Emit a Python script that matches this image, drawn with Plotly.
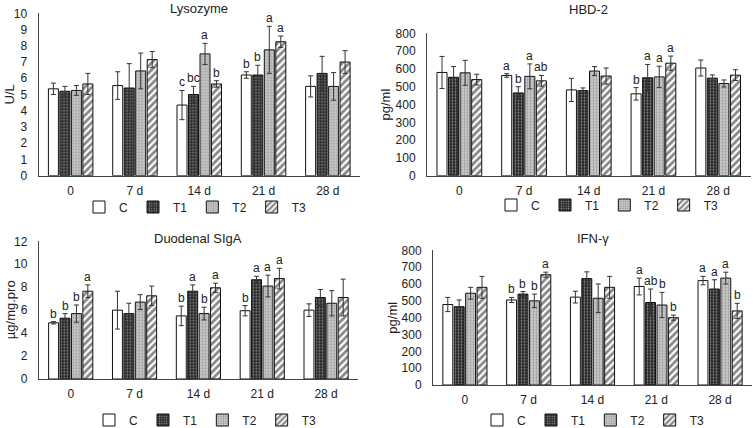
import plotly.graph_objects as go

W_FIG, H_FIG = 753, 428

days = ["0", "7 d", "14 d", "21 d", "28 d"]
groups = ["C", "T1", "T2", "T3"]

# Lysozyme (U/L)
lys_C = [5.35, 5.55, 4.35, 6.2, 5.5]
lys_T1 = [5.2, 5.4, 5.0, 6.2, 6.3]
lys_T2 = [5.25, 6.45, 7.5, 7.75, 5.5]
lys_T3 = [5.65, 7.15, 5.65, 8.25, 7.0]
lys_C_err = [0.35, 0.85, 0.9, 0.2, 0.65]
lys_T1_err = [0.3, 1.5, 0.5, 0.6, 1.05]
lys_T2_err = [0.3, 1.1, 0.65, 1.45, 0.85]
lys_T3_err = [0.65, 0.5, 0.2, 0.35, 0.7]
lys_C_lab = ["", "", "c", "b", ""]
lys_T1_lab = ["", "", "bc", "b", ""]
lys_T2_lab = ["", "", "a", "a", ""]
lys_T3_lab = ["", "", "b", "a", ""]

# HBD-2 (pg/ml)
hbd_C = [580, 563, 482, 460, 605]
hbd_T1 = [553, 465, 478, 550, 548]
hbd_T2 = [578, 558, 588, 555, 518]
hbd_T3 = [540, 533, 560, 632, 565]
hbd_C_err = [90, 10, 65, 35, 45]
hbd_T1_err = [60, 35, 15, 75, 18]
hbd_T2_err = [70, 70, 25, 60, 20]
hbd_T3_err = [30, 30, 45, 40, 30]
hbd_C_lab = ["", "a", "", "b", ""]
hbd_T1_lab = ["", "b", "", "a", ""]
hbd_T2_lab = ["", "a", "", "a", ""]
hbd_T3_lab = ["", "ab", "", "a", ""]

# Duodenal SIgA (µg/mg.pro)
sig_C = [4.9, 6.0, 5.5, 5.95, 6.0]
sig_T1 = [5.3, 5.7, 7.65, 8.65, 7.1]
sig_T2 = [5.7, 6.7, 5.7, 8.1, 6.6]
sig_T3 = [7.65, 7.25, 7.95, 8.75, 7.1]
sig_C_err = [0.1, 1.65, 0.85, 0.45, 0.55]
sig_T1_err = [0.4, 0.9, 0.55, 0.3, 0.7]
sig_T2_err = [0.75, 0.65, 0.55, 0.95, 1.1]
sig_T3_err = [0.55, 0.85, 0.4, 0.9, 1.6]
sig_C_lab = ["b", "", "b", "b", ""]
sig_T1_lab = ["b", "", "a", "a", ""]
sig_T2_lab = ["b", "", "b", "a", ""]
sig_T3_lab = ["a", "", "a", "a", ""]

# IFN-gamma (pg/ml)
ifn_C = [478, 505, 522, 585, 620]
ifn_T1 = [465, 540, 632, 490, 570]
ifn_T2 = [545, 500, 515, 475, 635]
ifn_T3 = [580, 655, 580, 400, 440]
ifn_C_err = [42, 15, 35, 50, 25]
ifn_T1_err = [40, 15, 40, 80, 55]
ifn_T2_err = [35, 40, 85, 75, 35]
ifn_T3_err = [65, 15, 65, 15, 45]
ifn_C_lab = ["", "b", "", "a", "a"]
ifn_T1_lab = ["", "b", "", "ab", "a"]
ifn_T2_lab = ["", "b", "", "b", "a"]
ifn_T3_lab = ["", "a", "", "b", "b"]

patterns = {
    "C": dict(shape="", bgcolor="white"),
    "T1": dict(shape=".", bgcolor="#222222", fgcolor="white", size=3, solidity=0.3),
    "T2": dict(shape=".", bgcolor="#d2d2d2", fgcolor="#666666", size=3, solidity=0.45),
    "T3": dict(shape="/", bgcolor="white", fgcolor="#111", size=5, solidity=0.55),
}

BARGAP = 0.285
FONT = "Liberation Sans, Arial, sans-serif"
TXT = "#222"

# panel pixel boxes: (x0, x1, ytop, ybottom)
panels = [
    dict(title="Lysozyme", ytitle="U/L", rng=[0, 10], dtick=1, box=(38.5, 360, 13.3, 175.7),
         vals=[lys_C, lys_T1, lys_T2, lys_T3], errs=[lys_C_err, lys_T1_err, lys_T2_err, lys_T3_err],
         labs=[lys_C_lab, lys_T1_lab, lys_T2_lab, lys_T3_lab], title_y=8, ytitle_x=9, leg=(195, 207)),
    dict(title="HBD-2", ytitle="pg/ml", rng=[0, 800], dtick=100, box=(427, 750.5, 33.3, 175.7),
         vals=[hbd_C, hbd_T1, hbd_T2, hbd_T3], errs=[hbd_C_err, hbd_T1_err, hbd_T2_err, hbd_T3_err],
         labs=[hbd_C_lab, hbd_T1_lab, hbd_T2_lab, hbd_T3_lab], title_y=10, ytitle_x=385, leg=(607, 205)),
    dict(title="Duodenal SIgA", ytitle="µg/mg.pro", rng=[0, 12], dtick=2, box=(38.8, 358, 241.3, 379),
         vals=[sig_C, sig_T1, sig_T2, sig_T3], errs=[sig_C_err, sig_T1_err, sig_T2_err, sig_T3_err],
         labs=[sig_C_lab, sig_T1_lab, sig_T2_lab, sig_T3_lab], title_y=238, ytitle_x=10, leg=(205, 420)),
    dict(title="IFN-γ", ytitle="pg/ml", rng=[0, 800], dtick=100, box=(433, 752, 250.3, 385),
         vals=[ifn_C, ifn_T1, ifn_T2, ifn_T3], errs=[ifn_C_err, ifn_T1_err, ifn_T2_err, ifn_T3_err],
         labs=[ifn_C_lab, ifn_T1_lab, ifn_T2_lab, ifn_T3_lab], title_y=238, ytitle_x=393, leg=(593, 420)),
]

fig = go.Figure()
annotations = []
layout_axes = {}

for p_i, p in enumerate(panels):
    k = "" if p_i == 0 else str(p_i + 1)
    xa, ya = "x" + k, "y" + k
    leg = "legend" + k
    x0, x1, yt, yb = p["box"]
    for g_i, g in enumerate(groups):
        fig.add_trace(go.Bar(
            x=days, y=p["vals"][g_i], name=g, xaxis=xa, yaxis=ya, legend=leg,
            marker=dict(color="white", line=dict(color="#111", width=1), pattern=patterns[g]),
            error_y=dict(type="data", array=p["errs"][g_i], color="#333", thickness=1, width=2.5),
        ))
    # significance letters
    cat_w = (x1 - x0) / len(days)
    slot = cat_w * (1 - BARGAP) / len(groups)
    for g_i in range(len(groups)):
        for d_i, d in enumerate(days):
            lab = p["labs"][g_i][d_i]
            if lab:
                annotations.append(dict(
                    x=d, y=p["vals"][g_i][d_i] + p["errs"][g_i][d_i], xref=xa, yref=ya,
                    text=lab, showarrow=False, yanchor="bottom", xanchor="center",
                    xshift=(g_i - 1.5) * slot, yshift=-1,
                    font=dict(size=12, color=TXT, family=FONT)))
    # panel title
    annotations.append(dict(x=(x0 + x1) / 2 / W_FIG, y=1 - p["title_y"] / H_FIG, xref="paper", yref="paper",
                            text=p["title"], showarrow=False, xanchor="center", yanchor="middle",
                            font=dict(size=13, color=TXT, family=FONT)))
    # y axis title
    annotations.append(dict(x=p["ytitle_x"] / W_FIG, y=1 - (yt + yb) / 2 / H_FIG, xref="paper", yref="paper",
                            text=p["ytitle"], showarrow=False, xanchor="center", yanchor="middle", textangle=-90,
                            font=dict(size=13, color=TXT, family=FONT)))
    xkey = "xaxis" + k
    ykey = "yaxis" + k
    layout_axes[xkey] = dict(domain=[x0 / W_FIG, x1 / W_FIG], anchor=ya, showline=True, linecolor="#444",
                             linewidth=1, ticks="", showgrid=False, ticklabelstandoff=4, automargin=False,
                             tickfont=dict(size=12, color=TXT, family=FONT))
    layout_axes[ykey] = dict(domain=[1 - yb / H_FIG, 1 - yt / H_FIG], anchor=xa, range=p["rng"], dtick=p["dtick"],
                             showline=True, linecolor="#444", linewidth=1, ticks="", showgrid=False,
                             zeroline=False, ticklabelstandoff=8, automargin=False,
                             tickfont=dict(size=12, color=TXT, family=FONT))
    layout_axes[leg] = dict(orientation="h", x=p["leg"][0] / W_FIG, y=1 - p["leg"][1] / H_FIG,
                            xanchor="center", yanchor="middle", font=dict(size=12, color=TXT, family=FONT),
                            itemwidth=30, bgcolor="rgba(0,0,0,0)", tracegroupgap=0)

fig.update_layout(
    width=W_FIG, height=H_FIG, autosize=False,
    margin=dict(l=0, r=0, t=0, b=0, autoexpand=False),
    paper_bgcolor="white", plot_bgcolor="white",
    barmode="group", bargap=BARGAP, bargroupgap=0.13,
    font=dict(family=FONT, color=TXT),
    annotations=annotations,
    **layout_axes,
)

fig.write_html("out.html", config={"displayModeBar": False},
               post_script="document.body.style.margin='0';document.body.style.overflow='hidden';")
